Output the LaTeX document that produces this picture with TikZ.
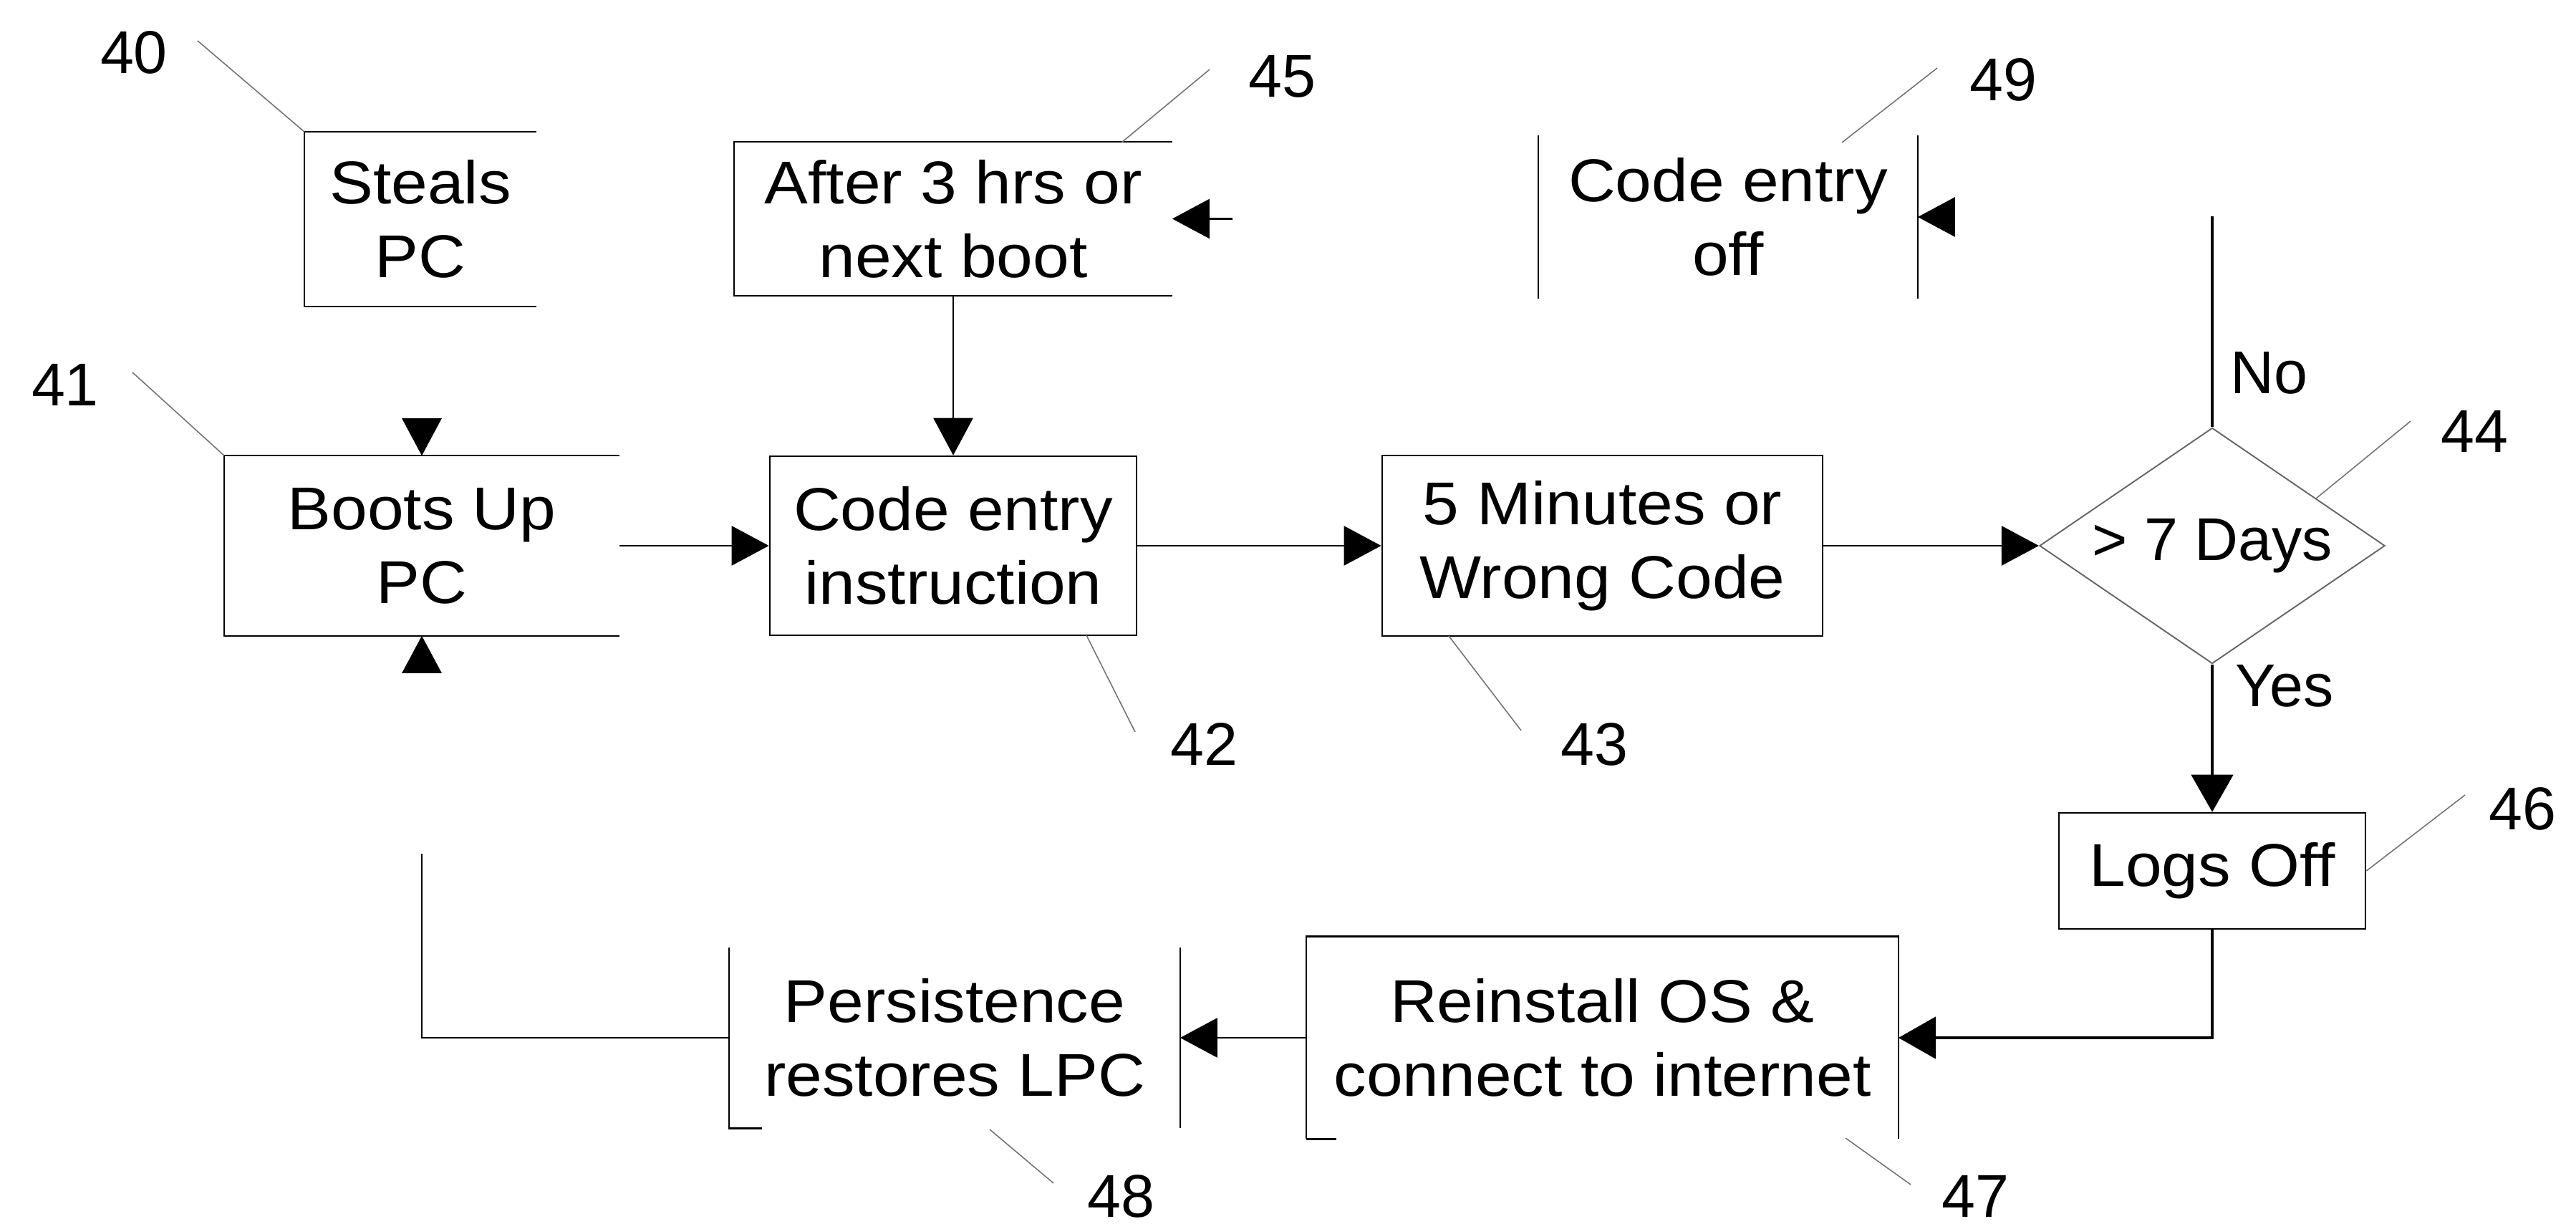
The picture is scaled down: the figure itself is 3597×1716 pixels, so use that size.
\documentclass[tikz,border=0pt]{standalone}
\usepackage{fontspec}
\setmainfont{Liberation Sans}[FakeStretch=1.08]
\newfontfamily\plainsans{Liberation Sans}
\usetikzlibrary{arrows.meta,shapes.geometric,calc}
\tikzset{
  box/.style={draw=none, inner sep=0pt, align=center, font=\fontsize{24}{29.3}\selectfont},
  fullbox/.style={box, draw, line width=0.7pt},
  edge/.style={line width=0.7pt},
  thinline/.style={line width=0.75pt},
  arr/.style={line width=0.75pt, -{Triangle[length=0.52cm,width=0.55cm]}},
  thickarr/.style={line width=1.35pt, -{Triangle[length=0.52cm,width=0.58cm]}},
  thickline/.style={line width=1.35pt},
  leader/.style={line width=0.45pt, draw=black!55},
  lbl/.style={inner sep=0pt, font=\plainsans\fontsize{24}{29}\selectfont},
  diam/.style={diamond, draw=black!60, line width=0.55pt, inner sep=0pt, aspect=1.47,
    minimum width=4.82cm, minimum height=3.29cm, font=\plainsans\fontsize{24}{29}\selectfont},
}
\begin{document}
\begin{tikzpicture}[x=0.01cm,y=-0.01cm]
\useasboundingbox (0,0) rectangle (3597,1716);

% ---------- boxes ----------
\node[box, minimum width=3.22cm, minimum height=2.42cm] (steals) at (587,306) {Steals\\PC};
\node[box, minimum width=6.10cm, minimum height=2.13cm] (after) at (1331,305.5) {After 3 hrs or\\next boot};
\node[box, minimum width=5.28cm, minimum height=2.26cm] (cedoff) at (2413,303) {Code entry\\off};
\node[box, minimum width=5.50cm, minimum height=2.50cm] (boots) at (589,762) {Boots Up\\PC};
\node[fullbox, minimum width=5.12cm, minimum height=2.50cm] (code) at (1331,762) {Code entry\\instruction};
\node[fullbox, minimum width=6.15cm, minimum height=2.52cm] (five) at (2237.5,762) {5 Minutes or\\Wrong Code};
\node[diam] (dia) at (3089,762) {> 7 Days};
\node[fullbox, minimum width=4.28cm, minimum height=1.62cm] (logs) at (3089,1216) {Logs Off};
\node[box, minimum width=8.25cm, minimum height=2.81cm] (reinst) at (2237.5,1449) {Reinstall OS \&\\connect to internet};
\node[box, minimum width=6.28cm, minimum height=2.51cm] (persist) at (1333,1449) {Persistence\\restores LPC};

% ---------- partial box borders ----------
\draw[edge] (steals.north east) -- (steals.north west) -- (steals.south west) -- (steals.south east);
\draw[edge] (after.north east) -- (after.north west) -- (after.south west) -- (after.south east);
\draw[edge] (boots.north east) -- (boots.north west) -- (boots.south west) -- (boots.south east);
\draw[edge] (cedoff.north west) -- (cedoff.south west);
\draw[edge] (cedoff.north east) -- (cedoff.south east);
\draw[edge] (reinst.south west) -- (reinst.north west) -- (reinst.north east) -- (reinst.south east);
\draw[edge] (reinst.south west) -- ++(42,0);
\draw[edge] (persist.north west) -- (persist.south west) -- ++(46,0);
\draw[edge] (persist.north east) -- (persist.south east);

% ---------- free ends ----------
\coordinate (afterin) at (1721,305.5);
\coordinate (cedin) at (2729,303);
\coordinate (bootsN) at (589,585);
\coordinate (bootsS) at (589,939);
\coordinate (noend) at (3089,302);
\coordinate (ltop) at (589,1192);

% ---------- connectors ----------
\draw[arr] (boots.east) -- (code.west);
\draw[arr] (after.south) -- (code.north);
\draw[arr] (code.east) -- (five.west);
\draw[arr] (five.east) -- (dia.west);
\draw[thickline] (dia.north) -- (noend);
\draw[thickarr] (dia.south) -- (logs.north);
\draw[thickarr] (logs.south) |- (reinst.east);
\draw[arr] (reinst.west) -- (persist.east);
\draw[thinline] (persist.west) -| (ltop);
\draw[arr] (afterin) -- (after.east);
\draw[arr] (cedin) -- (cedoff.east);
\draw[arr] (bootsN) -- (boots.north);
\draw[arr] (bootsS) -- (boots.south);

\node[lbl] (no) at (3168,521) {No};
\node[lbl] (yes) at (3190,958) {Yes};

% ---------- reference numerals ----------
\node[lbl] (l40) at (187,73) {40};
\node[lbl] (l41) at (91,537) {41};
\node[lbl] (l42) at (1681,1039) {42};
\node[lbl] (l43) at (2226,1039) {43};
\node[lbl] (l44) at (3455,602) {44};
\node[lbl] (l45) at (1790,107) {45};
\node[lbl] (l46) at (3522,1129) {46};
\node[lbl] (l47) at (2758,1670) {47};
\node[lbl] (l48) at (1565,1670) {48};
\node[lbl] (l49) at (2797,111) {49};

\coordinate (k40) at (276,57);
\coordinate (k41) at (185,520);
\coordinate (k42) at (1585,1022);
\coordinate (e42) at (1517,887);
\coordinate (k43) at (2124,1020);
\coordinate (e43) at (2023,888);
\coordinate (k44) at (3366,588);
\coordinate (e44) at ($(dia.north)!0.6!(dia.east)$);
\coordinate (k45) at (1689,97);
\coordinate (e45) at (1566,199);
\coordinate (k46) at (3442,1110);
\coordinate (k47) at (2668,1654);
\coordinate (e47) at (2577,1589);
\coordinate (k48) at (1471,1652);
\coordinate (e48) at (1382,1577);
\coordinate (k49) at (2705,95);
\coordinate (e49) at (2572,199);

\draw[leader] (k40) -- (steals.north west);
\draw[leader] (k41) -- (boots.north west);
\draw[leader] (k42) -- (e42);
\draw[leader] (k43) -- (e43);
\draw[leader] (k44) -- (e44);
\draw[leader] (k45) -- (e45);
\draw[leader] (k46) -- (logs.east);
\draw[leader] (k47) -- (e47);
\draw[leader] (k48) -- (e48);
\draw[leader] (k49) -- (e49);
\end{tikzpicture}
\end{document}
